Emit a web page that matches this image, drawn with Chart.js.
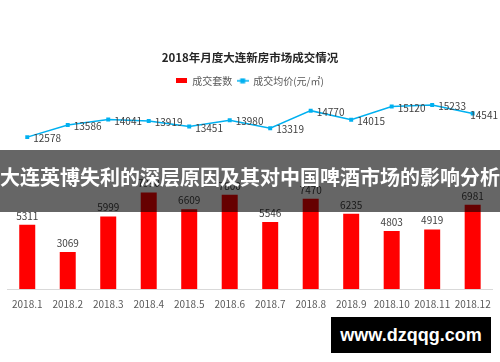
<!DOCTYPE html>
<html lang="zh">
<head>
    <meta charset="UTF-8">
    <title>2018年月度大连新房市场成交情况</title>
    <script src="https://cdn.jsdelivr.net/npm/chart.js"></script>
    <style>
        body {
            margin: 0;
            padding: 0;
            background: #fff;
        }

        .wrap {
            position: relative;
            width: 500px;
            height: 362px;
            overflow: hidden;
        }

        .banner {
            position: absolute;
            left: 0;
            top: 150px;
            width: 500px;
            height: 62px;
            background: rgba(0, 0, 0, 0.6);
            color: #fff;
            font-family: "Noto Sans CJK SC", sans-serif;
            font-weight: bold;
            font-size: 20px;
            line-height: 54px;
            text-align: center;
            white-space: nowrap;
        }

        .mark {
            position: absolute;
            left: 331px;
            top: 317px;
            width: 160px;
            height: 36px;
            background: #000;
            color: #fff;
            font-family: "Liberation Sans", Arial, sans-serif;
            font-weight: bold;
            font-size: 18px;
            line-height: 36px;
            text-align: center;
        }
    </style>
</head>
<body>
    <div class="wrap">
        <canvas id="grafico"></canvas>
        <div class="banner">大连英博失利的深层原因及其对中国啤酒市场的影响分析</div>
        <div class="mark">www.dzqqg.com</div>
    </div>

    <script>
        const meses = ['2018.1', '2018.2', '2018.3', '2018.4', '2018.5', '2018.6',
            '2018.7', '2018.8', '2018.9', '2018.10', '2018.11', '2018.12'];
        const taoshu = [5311, 3069, 5999, 7990, 6609, 7800, 5546, 7470, 6235, 4803, 4919, 6981];
        // 成交均价(元/㎡)
        const junjia = [12578, 13586, 14041, 13919, 13451, 13980, 13319, 14770, 14015, 15120, 15233, 14541];

        const ROJO = '#ff0000';
        const AZUL = '#00b0f0';

        Chart.defaults.font.family = '"Noto Sans CJK SC", "Noto Sans", sans-serif';

        // little legend symbols
        function simboloBarra() {
            const c = document.createElement('canvas');
            c.width = 11; c.height = 5;
            const g = c.getContext('2d');
            g.fillStyle = ROJO;
            g.fillRect(0, 0, 11, 5);
            return c;
        }

        function simboloLinea() {
            const c = document.createElement('canvas');
            c.width = 12; c.height = 6;
            const g = c.getContext('2d');
            g.strokeStyle = AZUL;
            g.lineWidth = 1.5;
            g.beginPath();
            g.moveTo(0, 3);
            g.lineTo(12, 3);
            g.stroke();
            g.fillStyle = AZUL;
            g.fillRect(3.5, 0.5, 5, 5);
            return c;
        }

        const etiquetas = {
            id: 'etiquetas',
            afterDatasetsDraw(chart) {
                const ctx = chart.ctx;
                ctx.save();
                ctx.font = '10px "Noto Sans CJK SC", "Noto Sans", sans-serif';
                ctx.fillStyle = '#404040';

                const barras = chart.getDatasetMeta(0);
                ctx.textAlign = 'center';
                ctx.textBaseline = 'bottom';
                barras.data.forEach((el, i) => {
                    ctx.fillText(taoshu[i], el.x, el.y - 4);
                });

                const linea = chart.getDatasetMeta(1);
                ctx.textAlign = 'left';
                ctx.textBaseline = 'middle';
                linea.data.forEach((el, i) => {
                    const txt = String(junjia[i]);
                    const w = ctx.measureText(txt).width;
                    let x = el.x + 6;
                    if (x + w > chart.width - 2) x = chart.width - 2 - w;
                    ctx.fillText(txt, x, el.y + 1.5);
                });
                ctx.restore();
            }
        };

        new Chart(document.getElementById('grafico'), {
            data: {
                labels: meses,
                datasets: [
                    {
                        type: 'bar',
                        label: '成交套数',
                        data: taoshu,
                        backgroundColor: ROJO,
                        categoryPercentage: 1,
                        barPercentage: 0.395,
                        order: 2
                    },
                    {
                        type: 'line',
                        label: '成交均价(元/㎡)',
                        data: junjia,
                        borderColor: AZUL,
                        backgroundColor: AZUL,
                        borderWidth: 1.5,
                        pointStyle: 'rect',
                        pointRadius: 2.8,
                        pointBorderWidth: 0,
                        tension: 0,
                        order: 1
                    }
                ]
            },
            options: {
                responsive: true,
                maintainAspectRatio: false,
                animation: false,
                layout: {
                    padding: { left: 7, right: 7, top: 0, bottom: 43 }
                },
                plugins: {
                    title: {
                        display: true,
                        text: '2018年月度大连新房市场成交情况',
                        color: '#262626',
                        font: { size: 11.5, weight: 'bold' },
                        padding: { top: 51, bottom: 6 }
                    },
                    legend: {
                        position: 'top',
                        labels: {
                            color: '#595959',
                            font: { size: 10 },
                            usePointStyle: true,
                            pointStyleWidth: 11,
                            boxHeight: 5,
                            padding: 5,
                            generateLabels(chart) {
                                const items = Chart.defaults.plugins.legend.labels.generateLabels(chart);
                                items.sort((a, b) => a.datasetIndex - b.datasetIndex);
                                items.forEach(it => {
                                    it.pointStyle = it.datasetIndex === 0 ? simboloBarra() : simboloLinea();
                                });
                                return items;
                            }
                        }
                    },
                    tooltip: { enabled: false }
                },
                scales: {
                    x: {
                        grid: { display: false, drawTicks: false },
                        border: { display: true, color: '#d9d9d9', width: 1 },
                        ticks: {
                            color: '#595959',
                            font: { size: 10 },
                            padding: 9,
                            autoSkip: false,
                            maxRotation: 0
                        }
                    },
                    y: {
                        display: false,
                        min: 0,
                        max: 16000
                    }
                }
            },
            plugins: [etiquetas]
        });
    </script>
</body>
</html>
